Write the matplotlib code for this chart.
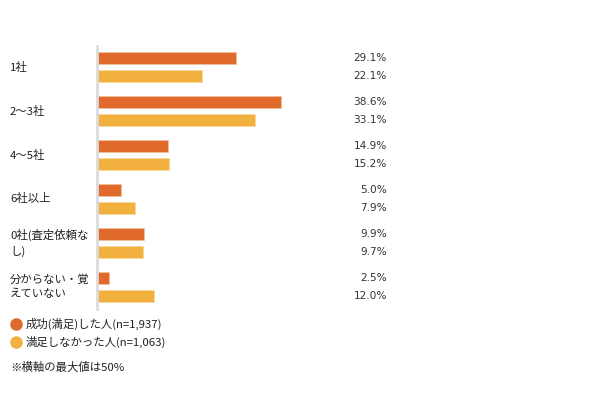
import matplotlib
matplotlib.use("Agg")
import matplotlib.pyplot as plt
from matplotlib.transforms import blended_transform_factory
from matplotlib.lines import Line2D
import numpy as np

plt.rcParams['font.family'] = ['Noto Sans CJK JP', 'DejaVu Sans']

categories = ["1社", "2〜3社", "4〜5社", "6社以上", "0社(査定依頼な\nし)", "分からない・覚\nえていない"]
satisfied = [29.1, 38.6, 14.9, 5.0, 9.9, 2.5]
unsatisfied = [22.1, 33.1, 15.2, 7.9, 9.7, 12.0]
series_names = ["成功(満足)した人(n=1,937)", "満足しなかった人(n=1,063)"]
note = "※横軸の最大値は50%"

c1 = "#DF6A2B"
c2 = "#F2B03F"

W, H = 600, 400
fig = plt.figure(figsize=(6, 4), dpi=100)
ax_left, ax_right = 97, 335
ax_top, ax_bottom = 45.5, 308.5
ax = fig.add_axes([ax_left / W, 1 - ax_bottom / H, (ax_right - ax_left) / W, (ax_bottom - ax_top) / H])

y = np.arange(len(categories))
bh = 0.274
off = 0.205
ax.barh(y - off, satisfied, height=bh, color=c1, edgecolor="#F4C3A0", linewidth=0.4)
ax.barh(y + off, unsatisfied, height=bh, color=c2, edgecolor="#F8D89A", linewidth=0.4)
ax.set_xlim(0, 50)
ax.set_ylim(len(categories) - 0.5, -0.5)

for s in ["top", "right", "bottom"]:
    ax.spines[s].set_visible(False)
ax.spines["left"].set_color("#DCDCDC")
ax.spines["left"].set_linewidth(2)
ax.set_xticks([])
ax.set_yticks([])

fs = 8.2
fsn = 7.6
trans_val = blended_transform_factory(fig.transFigure, ax.transData)
for i in range(len(categories)):
    ax.text(387 / W, y[i] - off, f"{satisfied[i]:.1f}%", transform=trans_val, ha="right", va="center",
            fontsize=fsn, color="#333333", family=["DejaVu Sans"])
    ax.text(387 / W, y[i] + off, f"{unsatisfied[i]:.1f}%", transform=trans_val, ha="right", va="center",
            fontsize=fsn, color="#333333", family=["DejaVu Sans"])
    ax.text(10 / W, y[i], categories[i], transform=trans_val, ha="left", va="center",
            fontsize=fs, color="#222222", linespacing=1.5)

# legend
for k, (name, col) in enumerate(zip(series_names, [c1, c2])):
    yy = 1 - (324 + 18 * k) / H
    fig.add_artist(Line2D([15.5 / W], [yy], marker="o", markersize=8, color=col, linestyle="none",
                          transform=fig.transFigure))
    fig.text(26 / W, yy, name, ha="left", va="center", fontsize=fs, color="#222222")

fig.text(10 / W, 1 - 367 / H, note, ha="left", va="center", fontsize=fs, color="#222222")

fig.savefig("out.png", dpi=100, facecolor="white")
